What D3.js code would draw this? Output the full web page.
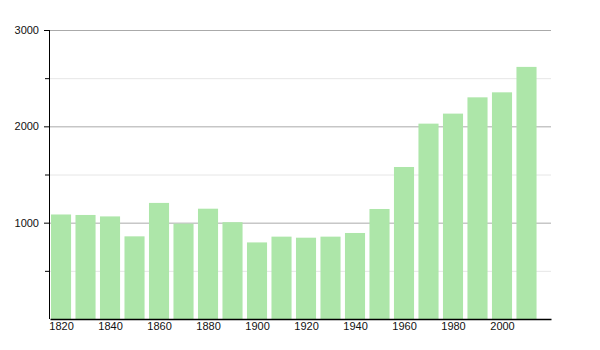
<!DOCTYPE html>
<html>
<head>
<meta charset="utf-8">
<script src="https://cdn.jsdelivr.net/npm/d3@7"></script>
<style>
  body { margin: 0; background: #fff; }
  .axis text { font-family: "Liberation Sans", Arial, sans-serif; font-size: 11px; fill: #111; }
</style>
</head>
<body>
<svg id="contenedor"></svg>
<script>
// datos: años censales y población
let anios = [1820, 1830, 1840, 1850, 1860, 1870, 1880, 1890, 1900, 1910,
             1920, 1930, 1940, 1950, 1960, 1970, 1980, 1990, 2000, 2010];
let poblacion = [1085, 1080, 1065, 858, 1205, 990, 1145, 1005, 795, 855,
                 844, 855, 893, 1142, 1578, 2028, 2132, 2301, 2353, 2617];
let ticksY = [1000, 2000, 3000];
let ticksMenoresY = [500, 1500, 2500];
let ticksX = [1820, 1840, 1860, 1880, 1900, 1920, 1940, 1960, 1980, 2000];

let width = 600, height = 350;
let margin = { top: 30, bottom: 31, left: 50, right: 49 };

let svg = d3.select("#contenedor").attr("width", width).attr("height", height);

let datos = anios.map((a, i) => ({ anio: a, valor: poblacion[i] }));

// escalas
let xScale = d3.scaleLinear().domain([1815.5, 2020]).range([margin.left, width - margin.right]);
let yScale = d3.scaleLinear().domain([0, 3000]).range([height - margin.bottom, margin.top]);

// filtro suave para los bordes de las barras
svg.append("defs").append("filter").attr("id", "suave")
  .append("feGaussianBlur").attr("stdDeviation", 0.5);

// líneas de guía
svg.append("g").selectAll("line").data(ticksMenoresY).enter().append("line")
  .attr("x1", margin.left).attr("x2", width - margin.right)
  .attr("y1", d => yScale(d) + 0.5).attr("y2", d => yScale(d) + 0.5)
  .attr("stroke", "#e6e6e6").attr("stroke-width", 1);

svg.append("g").selectAll("line").data(ticksY).enter().append("line")
  .attr("x1", margin.left).attr("x2", width - margin.right)
  .attr("y1", d => yScale(d) + 0.5).attr("y2", d => yScale(d) + 0.5)
  .attr("stroke", "#aaaaaa").attr("stroke-width", 1);

// barras
let anchoBarra = xScale(1828.2) - xScale(1820);
svg.append("g").attr("filter", "url(#suave)")
  .selectAll("rect").data(datos).enter().append("rect")
  .attr("x", d => xScale(d.anio) - anchoBarra / 2)
  .attr("width", anchoBarra)
  .attr("y", d => yScale(d.valor))
  .attr("height", d => yScale(0) - yScale(d.valor))
  .attr("fill", "#ade6a9");

// eje Y
let ejeY = svg.append("g").attr("class", "axis")
  .attr("transform", `translate(${margin.left},0)`)
  .call(d3.axisLeft(yScale).tickValues(ticksY).tickFormat(d3.format("d")).tickSize(6).tickPadding(5));
ejeY.select(".domain").attr("d", `M-0.5,${margin.top}V${yScale(0)}`).attr("stroke", "#000");
ejeY.selectAll(".tick line").attr("stroke", "#000");
ejeY.selectAll(".menor").data(ticksMenoresY).enter().append("line")
  .attr("x1", -5).attr("x2", 0)
  .attr("y1", d => yScale(d) + 0.5).attr("y2", d => yScale(d) + 0.5)
  .attr("stroke", "#000");

// eje X
let ejeX = svg.append("g").attr("class", "axis")
  .attr("transform", `translate(0,${yScale(0)})`)
  .call(d3.axisBottom(xScale).tickValues(ticksX).tickFormat(d3.format("d")).tickSize(0).tickPadding(3));
ejeX.select(".domain").attr("stroke", "#000").attr("stroke-width", 1.3);
</script>
</body>
</html>
